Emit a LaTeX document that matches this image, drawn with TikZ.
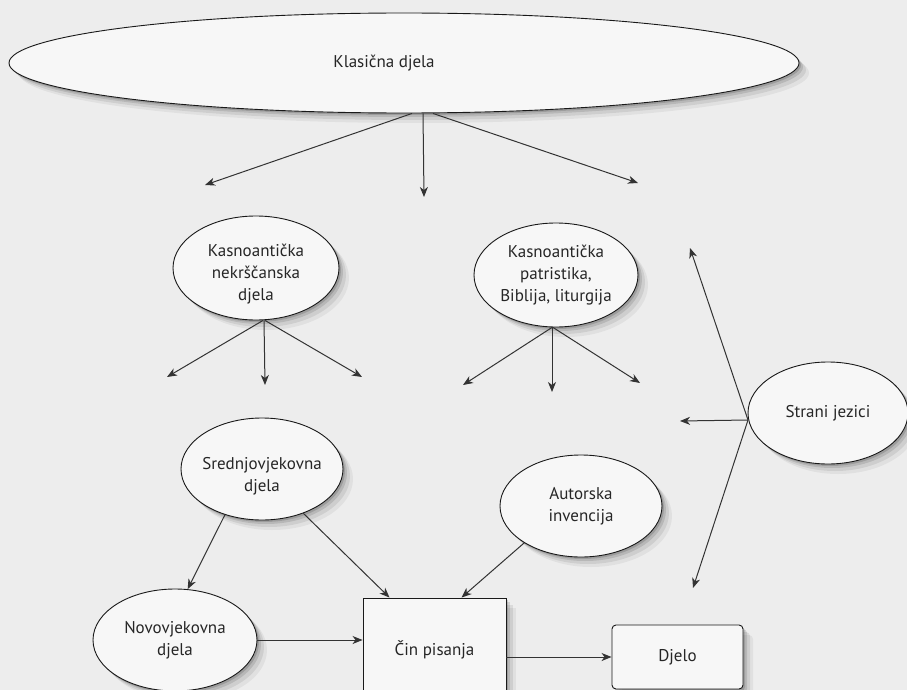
\documentclass[tikz,border=0pt]{standalone}
\usepackage{fontspec}
\setmainfont{PT Sans}
\usetikzlibrary{shapes.geometric,arrows.meta,shadows}
\definecolor{bg}{HTML}{EDEDED}
\definecolor{nodefill}{HTML}{F7F7F7}
\definecolor{ink}{HTML}{262626}
\begin{document}
\begin{tikzpicture}[x=1pt,y=-1pt,
  every node/.style={font=\fontsize{17}{22}\selectfont, text=ink, align=center},
  shade1/.style={
    drop shadow={shadow xshift=2pt, shadow yshift=-2pt, opacity=0.14, fill=black},
    drop shadow={shadow xshift=4pt, shadow yshift=-4pt, opacity=0.11, fill=black},
    drop shadow={shadow xshift=7pt, shadow yshift=-7pt, opacity=0.08, fill=black},
    drop shadow={shadow xshift=10pt, shadow yshift=-10pt, opacity=0.05, fill=black}},
  oval/.style={ellipse, draw=black!90, line width=0.9pt, fill=nodefill, inner sep=0pt, shade1},
  boxnode/.style={rectangle, draw=black!90, line width=0.9pt, fill=nodefill, inner sep=0pt, shade1},
  arr/.style={draw=black!80, line width=1pt, -{Stealth[length=10pt,width=8pt,inset=3pt]}}
]
\useasboundingbox (0,0) rectangle (907,690);
\clip (0,0) rectangle (907,690);
\fill[bg] (0,0) rectangle (907,690);

% nodes
\node[oval, minimum width=790pt, minimum height=100pt,
      label={[xshift=-20pt]center:Klasična djela}] (kl) at (404,63) {};
\node[oval, minimum width=166pt, minimum height=104pt,
      label={[yshift=-6pt]center:Kasnoantička\\nekrščanska\\djela}] (n1) at (256,268) {};
\node[oval, minimum width=164pt, minimum height=104pt] (n2) at (556,275)
  {Kasnoantička\\patristika,\\Biblija, liturgija};
\node[oval, minimum width=160pt, minimum height=102pt] (sj) at (828,413) {Strani jezici};
\node[oval, minimum width=162pt, minimum height=102pt,
      label={[yshift=-7pt]center:Srednjovjekovna\\djela}] (sr) at (262,469) {};
\node[oval, minimum width=162pt, minimum height=102pt] (au) at (581,506) {Autorska\\invencija};
\node[oval, minimum width=164pt, minimum height=102pt] (no) at (175,640) {Novovjekovna\\djela};
\node[boxnode, minimum width=143pt, minimum height=104pt] (cin) at (434.5,650) {Čin pisanja};
\node[boxnode, rounded corners=4pt, minimum width=131pt, minimum height=64pt] (dj) at (677.5,657) {Djelo};

% free ends
\coordinate (t1) at (205,185);
\coordinate (t2) at (424,197);
\coordinate (t3) at (638,183);
\coordinate (a1) at (167,377);
\coordinate (a2) at (265,385);
\coordinate (a3) at (362,377);
\coordinate (b1) at (463,385);
\coordinate (b2) at (552,392);
\coordinate (b3) at (640,383);
\coordinate (s0) at (748,420);
\coordinate (s1) at (690,248);
\coordinate (s2) at (680,421);
\coordinate (s3) at (693,588);

% connectors
\draw[arr] ([xshift=8pt]kl.south) -- (t1);
\draw[arr] ([xshift=19pt]kl.south) -- (t2);
\draw[arr] ([xshift=29pt]kl.south) -- (t3);

\draw[arr] ([xshift=7pt]n1.south) -- (a1);
\draw[arr] ([xshift=8pt]n1.south) -- (a2);
\draw[arr] ([xshift=9pt]n1.south) -- (a3);

\draw[arr] ([xshift=-4pt]n2.south) -- (b1);
\draw[arr] ([xshift=-4pt]n2.south) -- (b2);
\draw[arr] ([xshift=-3pt]n2.south) -- (b3);

\draw[arr] (s0) -- (s1);
\draw[arr] (s0) -- (s2);
\draw[arr] (s0) -- (s3);

\draw[arr] (sr.231) -- (no.76);
\draw[arr] (sr.313) -- ([xshift=-45pt]cin.north);
\draw[arr] (au.213) -- ([xshift=27pt]cin.north);
\draw[arr] (no.east) -- (no.east -| cin.west);
\draw[arr] (dj.west -| cin.east) -- (dj.west);
\end{tikzpicture}
\end{document}
